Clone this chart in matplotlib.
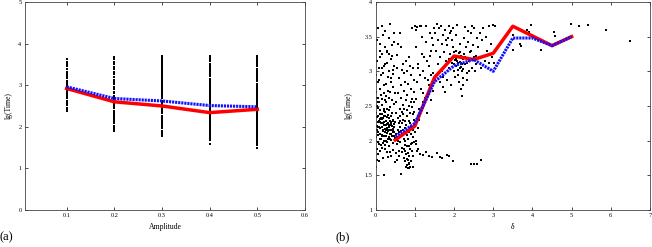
#!/usr/bin/env python3
"""Two-panel figure: lg(Time) vs amplitude (a) and vs delta (b)."""

import matplotlib

matplotlib.use("Agg")
import matplotlib.pyplot as plt
import numpy as np

# ---- panel (a): amplitude sweep -------------------------------------------
amplitudes = [0.1, 0.2, 0.3, 0.4, 0.5]
red_a = [2.92, 2.60, 2.50, 2.34, 2.42]
blue_a = [2.96, 2.68, 2.62, 2.51, 2.48]

# observed lg(Time) dots per amplitude column
col_01 = [2.38, 2.41, 2.45, 2.52, 2.58, 2.63, 2.70, 2.73, 2.78, 2.82, 2.86,
          2.90, 2.95, 3.00, 3.05, 3.10, 3.18, 3.22, 3.27, 3.32, 3.40, 3.45,
          3.50, 3.55, 3.64]
col_02 = [1.90, 1.94, 1.99, 2.03, 2.08, 2.12, 2.17, 2.21, 2.26, 2.30, 2.35,
          2.39, 2.44, 2.48, 2.53, 2.57, 2.62, 2.66, 2.71, 2.75, 2.80, 2.84,
          2.90, 2.96, 3.02, 3.08, 3.12, 3.20, 3.26, 3.32, 3.38, 3.44, 3.50,
          3.56, 3.62, 3.68]
col_03 = [1.78, 1.82, 1.87, 1.91, 1.96, 2.00, 2.05, 2.09, 2.14, 2.18, 2.23,
          2.27, 2.32, 2.36, 2.41, 2.45, 2.50, 2.54, 2.59, 2.63, 2.68, 2.72,
          2.77, 2.81, 2.86, 2.90, 2.95, 2.99, 3.04, 3.08, 3.13, 3.17, 3.22,
          3.26, 3.31, 3.35, 3.40, 3.44, 3.49, 3.53, 3.58, 3.62, 3.67, 3.70]
col_04 = [1.59, 1.68, 1.72, 1.77, 1.81, 1.86, 1.90, 1.95, 1.99, 2.04, 2.08,
          2.13, 2.17, 2.22, 2.26, 2.31, 2.35, 2.40, 2.44, 2.49, 2.53, 2.58,
          2.62, 2.67, 2.71, 2.76, 2.80, 2.85, 2.89, 2.94, 2.98, 3.03, 3.07,
          3.12, 3.16, 3.21, 3.25, 3.30, 3.34, 3.39, 3.43, 3.48, 3.52, 3.57,
          3.61, 3.66, 3.70]
col_05 = [1.49, 1.56, 1.60, 1.65, 1.69, 1.74, 1.78, 1.83, 1.87, 1.92, 1.96,
          2.01, 2.05, 2.10, 2.14, 2.19, 2.23, 2.28, 2.32, 2.37, 2.41, 2.46,
          2.50, 2.55, 2.59, 2.64, 2.68, 2.73, 2.77, 2.82, 2.86, 2.91, 2.95,
          3.00, 3.04, 3.09, 3.13, 3.18, 3.22, 3.27, 3.31, 3.36, 3.40, 3.45,
          3.49, 3.54, 3.58, 3.63, 3.67, 3.70]
columns_a = [col_01, col_02, col_03, col_04, col_05]

# ---- panel (b): delta sweep -----------------------------------------------
deltas = [0.5, 1.0, 1.5, 2.0, 2.5, 3.0, 3.5, 4.0, 4.5, 5.0]
red_b = [2.01, 2.21, 2.91, 3.22, 3.17, 3.26, 3.65, 3.51, 3.37, 3.50]
blue_b = [2.06, 2.25, 2.85, 3.08, 3.17, 3.00, 3.48, 3.48, 3.37, 3.50]

# (delta, lg(Time)) scatter, grouped by region
pts_dense = [
    (0.02, 2.05), (0.03, 2.21), (0.04, 2.34), (0.05, 1.98), (0.06, 2.47),
    (0.07, 2.12), (0.08, 2.28), (0.09, 2.55), (0.10, 2.02), (0.11, 2.18),
    (0.12, 2.39), (0.13, 1.93), (0.14, 2.25), (0.15, 2.08), (0.16, 2.51),
    (0.17, 2.31), (0.18, 2.14), (0.19, 1.96), (0.20, 2.43), (0.21, 2.22),
    (0.22, 2.06), (0.23, 2.36), (0.24, 2.58), (0.25, 2.17), (0.26, 1.99),
    (0.27, 2.29), (0.28, 2.45), (0.29, 2.11), (0.30, 2.24), (0.31, 2.03),
    (0.32, 2.37), (0.33, 2.19), (0.34, 1.92), (0.35, 2.32), (0.36, 2.09),
    (0.37, 2.48), (0.38, 2.15), (0.39, 2.27), (0.40, 2.01), (0.41, 2.21),
    (0.42, 2.40), (0.43, 2.13), (0.44, 1.97), (0.45, 2.30), (0.46, 2.07),
    (0.47, 2.53), (0.48, 2.19), (0.49, 2.04), (0.01, 2.40), (0.02, 2.62),
    (0.03, 1.88), (0.04, 2.15), (0.05, 2.27), (0.06, 2.08), (0.07, 2.36),
    (0.08, 1.95), (0.09, 2.19), (0.10, 2.31), (0.11, 2.44), (0.12, 2.10),
    (0.13, 2.26), (0.14, 2.02), (0.15, 2.38), (0.16, 2.20), (0.17, 2.06),
    (0.18, 2.33), (0.19, 2.16), (0.20, 2.00), (0.21, 2.35), (0.22, 2.27),
    (0.23, 2.12), (0.24, 1.94), (0.25, 2.41), (0.26, 2.23), (0.27, 2.07),
    (0.28, 2.18), (0.29, 2.34), (0.30, 1.98), (0.31, 2.14), (0.32, 2.26),
    (0.33, 2.05), (0.34, 2.44), (0.35, 2.16), (0.36, 2.28), (0.37, 2.02),
    (0.38, 2.35), (0.39, 2.10), (0.40, 2.22), (0.41, 2.07), (0.43, 2.29),
    (0.44, 2.17), (0.46, 2.24), (0.48, 2.12), (0.03, 2.50), (0.11, 2.27),
    (0.19, 2.25), (0.27, 2.16), (0.35, 2.22), (0.06, 2.20), (0.14, 2.33),
    (0.22, 2.45), (0.30, 2.17), (0.38, 2.25), (0.45, 2.15), (0.49, 2.27),
    (0.03, 1.72), (0.06, 1.80), (0.12, 1.85), (0.18, 1.75), (0.20, 1.50),
    (0.28, 1.83), (0.32, 1.77), (0.40, 1.78), (0.45, 1.86), (0.08, 1.70),
    (0.49, 1.69), (0.02, 1.62), (0.15, 1.90), (0.25, 1.88), (0.36, 1.84),
]
pts_upper_left = [
    (0.02, 2.70), (0.05, 2.85), (0.08, 3.05), (0.04, 3.15), (0.10, 2.75),
    (0.13, 2.95), (0.17, 3.25), (0.20, 2.68), (0.23, 3.10), (0.26, 2.82),
    (0.29, 3.30), (0.32, 2.72), (0.35, 3.00), (0.38, 2.90), (0.41, 3.38),
    (0.44, 2.78), (0.47, 3.55), (0.03, 3.45), (0.07, 3.62), (0.12, 3.40),
    (0.15, 3.65), (0.19, 3.52), (0.24, 3.35), (0.28, 3.28), (0.33, 3.48),
    (0.37, 3.68), (0.42, 3.22), (0.46, 3.08), (0.01, 2.95), (0.06, 2.62),
    (0.09, 2.88), (0.14, 2.66), (0.18, 2.98), (0.22, 2.80), (0.27, 2.64),
    (0.31, 2.92), (0.36, 2.70), (0.40, 2.84), (0.45, 2.96), (0.49, 2.68),
    (0.11, 3.20), (0.21, 3.08), (0.30, 3.12), (0.39, 3.18), (0.48, 3.42),
    (0.25, 3.58), (0.16, 3.05), (0.34, 3.25), (0.43, 3.02), (0.05, 2.55),
    (0.16, 2.60), (0.26, 2.56), (0.33, 2.62), (0.42, 2.58), (0.10, 3.30),
]
pts_mid_low = [
    (0.52, 2.10), (0.54, 1.95), (0.56, 2.32), (0.58, 2.05), (0.60, 1.85),
    (0.62, 2.20), (0.64, 1.52), (0.66, 2.42), (0.68, 1.90), (0.70, 2.15),
    (0.72, 1.75), (0.74, 2.28), (0.76, 2.00), (0.78, 1.62), (0.80, 2.36),
    (0.82, 1.82), (0.84, 2.12), (0.86, 1.68), (0.88, 2.25), (0.90, 1.95),
    (0.92, 2.48), (0.94, 1.78), (0.96, 2.05), (0.98, 2.30), (0.53, 2.55),
    (0.57, 2.68), (0.61, 2.45), (0.65, 2.62), (0.69, 2.52), (0.73, 2.72),
    (0.77, 2.58), (0.81, 2.66), (0.85, 2.50), (0.89, 2.75), (0.93, 2.60),
    (0.97, 2.70), (0.55, 1.72), (0.59, 2.26), (0.63, 1.98), (0.67, 2.08),
    (0.71, 1.88), (0.75, 2.18), (0.79, 1.92), (0.83, 1.72), (0.87, 1.88),
    (0.91, 2.20), (0.95, 1.62), (0.99, 1.98), (0.51, 2.40), (0.60, 2.12),
    (0.70, 2.38), (0.80, 2.08), (0.90, 2.10), (0.78, 1.80), (0.82, 1.60),
    (0.85, 1.78), (0.88, 1.62), (0.76, 1.70), (0.84, 1.92), (0.92, 1.85),
    (0.73, 2.02), (0.66, 2.25), (0.57, 2.15), (0.62, 2.35), (0.94, 2.38),
    (0.86, 2.28), (0.98, 2.55), (0.80, 1.65), (0.86, 1.60), (0.74, 1.85),
    (0.53, 1.82), (0.56, 2.00), (0.59, 1.78), (0.61, 2.28), (0.64, 2.14),
    (0.67, 1.84), (0.69, 2.30), (0.72, 2.46), (0.75, 1.94), (0.77, 2.22),
    (0.79, 2.44), (0.81, 1.74), (0.83, 2.02), (0.87, 2.40), (0.89, 1.70),
    (0.91, 2.56), (0.93, 1.96), (0.96, 2.16), (0.99, 2.42), (0.84, 1.66),
]
pts_mid_high = [
    (0.55, 3.05), (0.60, 2.90), (0.65, 3.35), (0.70, 3.10), (0.75, 2.85),
    (0.80, 3.00), (0.85, 3.20), (0.90, 2.95), (0.95, 3.05), (0.58, 3.40),
    (0.68, 3.02), (0.78, 3.15), (0.88, 3.08), (0.98, 2.88), (0.62, 3.55),
    (0.93, 3.62), (0.72, 2.98), (0.54, 3.23), (0.64, 2.80), (0.83, 2.82),
]
pts_rise = [
    (1.02, 2.60), (1.05, 2.85), (1.08, 3.05), (1.10, 2.45), (1.12, 3.65),
    (1.15, 2.75), (1.18, 3.25), (1.20, 2.55), (1.22, 3.00), (1.25, 2.90),
    (1.28, 3.42), (1.30, 2.65), (1.32, 3.15), (1.35, 2.80), (1.38, 3.55),
    (1.40, 2.95), (1.42, 3.30), (1.45, 2.72), (1.48, 3.62), (1.03, 3.35),
    (1.07, 2.35), (1.13, 2.95), (1.17, 2.48), (1.23, 3.20), (1.27, 2.62),
    (1.33, 2.88), (1.37, 3.08), (1.43, 3.48), (1.47, 2.98), (1.04, 3.60),
    (1.09, 3.10), (1.19, 3.50), (1.29, 3.65), (1.39, 3.22), (1.46, 3.38),
    (1.11, 2.30), (1.21, 2.68), (1.31, 2.40), (1.41, 2.58), (1.16, 3.66),
    (1.00, 3.66), (1.06, 3.64), (1.01, 2.12), (1.04, 2.00), (1.08, 2.18),
]
pts_cluster = [
    (1.52, 3.55), (1.55, 3.30), (1.58, 3.10), (1.60, 3.45), (1.62, 3.62),
    (1.65, 3.20), (1.68, 3.40), (1.70, 3.00), (1.72, 3.52), (1.75, 3.28),
    (1.78, 3.60), (1.80, 3.15), (1.82, 3.38), (1.85, 3.48), (1.88, 3.05),
    (1.90, 3.25), (1.92, 3.58), (1.95, 3.12), (1.98, 3.35), (2.00, 3.00),
    (2.02, 3.22), (2.04, 3.08), (2.06, 3.30), (2.08, 3.15), (2.10, 2.95),
    (2.12, 3.20), (2.14, 3.05), (2.16, 3.28), (2.18, 3.12), (2.20, 3.00),
    (2.22, 3.18), (2.24, 2.90), (2.26, 3.25), (2.28, 3.10), (2.30, 3.35),
    (2.32, 2.98), (2.35, 3.42), (2.38, 3.15), (2.40, 3.28), (2.42, 3.55),
    (2.45, 3.05), (2.48, 3.38), (2.50, 3.20), (2.52, 3.62), (2.55, 3.10),
    (2.58, 3.48), (1.54, 2.95), (1.63, 2.85), (1.73, 2.92), (1.83, 2.88),
    (1.93, 2.80), (2.03, 2.92), (2.13, 2.85), (2.23, 2.80), (2.33, 2.88),
    (1.57, 3.68), (1.67, 3.66), (1.87, 3.65), (2.07, 3.67), (2.27, 3.64),
    (2.47, 3.66), (1.96, 3.45), (2.05, 3.52), (2.15, 3.40), (2.25, 3.48),
    (2.36, 3.58), (1.76, 3.08), (1.86, 3.18), (2.01, 3.10), (2.09, 3.02),
    (2.11, 3.12), (2.17, 3.06), (2.19, 3.22), (2.21, 3.10), (2.03, 3.16),
    (2.13, 3.26), (2.23, 3.04), (2.06, 3.18), (2.16, 3.14), (1.99, 3.28),
    (1.66, 3.02), (1.79, 3.45), (1.89, 3.55), (1.97, 3.62), (2.29, 3.20),
    (2.39, 3.00), (2.44, 3.30), (2.53, 3.00), (2.57, 3.22), (2.34, 3.12),
    (1.77, 2.70), (2.19, 2.75), (1.71, 2.78), (2.20, 2.65),
]
pts_low_tail = [
    (1.05, 1.85), (1.12, 1.80), (1.20, 1.79), (1.28, 1.84), (1.35, 1.78),
    (1.44, 1.77), (1.02, 1.95), (1.08, 1.88), (1.56, 1.82), (1.64, 1.77),
    (1.70, 1.75), (1.81, 1.79), (1.88, 1.78), (1.98, 1.70), (2.42, 1.66),
    (2.52, 1.67), (2.58, 1.66), (2.70, 1.72),
]
pts_right = [
    (2.62, 3.35), (2.65, 3.55), (2.68, 3.20), (2.72, 3.45), (2.75, 3.62),
    (2.78, 3.15), (2.82, 3.50), (2.85, 3.30), (2.90, 3.65), (2.95, 3.40),
    (3.00, 3.67), (2.70, 3.05), (2.88, 3.12), (3.05, 3.66), (2.98, 3.20),
    (3.02, 3.12), (3.51, 3.52), (3.68, 3.40), (3.50, 3.31), (3.70, 3.36),
    (3.87, 3.59), (3.90, 3.56), (3.96, 3.67), (4.23, 3.31), (4.55, 3.57),
    (4.57, 3.51), (4.98, 3.68), (5.19, 3.65), (5.41, 3.67), (5.88, 3.60),
    (6.49, 3.43),
]
scatter_b = (pts_dense + pts_upper_left + pts_mid_low + pts_mid_high
             + pts_rise + pts_cluster + pts_low_tail + pts_right)

SERIF = ["Liberation Serif", "DejaVu Serif"]
TICK_FS = 4.5
DOT_S = 3.6
BLUE_DASH = (0, (0.7, 0.3))


def style_axes(ax):
    ax.tick_params(direction="in", length=2.5, width=0.5, labelsize=TICK_FS,
                   top=True, right=True, pad=2.5)
    for sp in ax.spines.values():
        sp.set_linewidth(0.6)
        sp.set_color("#444444")
    for lab in ax.get_xticklabels() + ax.get_yticklabels():
        lab.set_family(SERIF)


fig = plt.figure(figsize=(6.52, 2.47), dpi=100)

# (a)
ax1 = fig.add_axes([0.0383, 0.150, 0.4295, 0.842])
for amp, col in zip(amplitudes, columns_a):
    ax1.scatter(np.full(len(col), amp), col, s=DOT_S, marker="s",
                color="black", linewidths=0, zorder=2)
ax1.plot(amplitudes, red_a, color="#ff0000", lw=2.5, zorder=3)
ax1.plot(amplitudes, blue_a, color="#1010ff", lw=2.2, ls=BLUE_DASH, zorder=4)
ax1.set_xlim(0.0125, 0.6)
ax1.set_ylim(0, 5)
ax1.set_xticks([0.1, 0.2, 0.3, 0.4, 0.5, 0.6])
ax1.set_yticks([0, 1, 2, 3, 4, 5])
style_axes(ax1)
ax1.set_xlabel("Amplitude", fontsize=5.5, family=SERIF, labelpad=3)
ax1.set_ylabel("lg(Time)", fontsize=5.5, family=SERIF, labelpad=4)

# (b)
ax2 = fig.add_axes([0.5762, 0.150, 0.4207, 0.842])
bx = np.array([p[0] for p in scatter_b])
by = np.array([p[1] for p in scatter_b])
ax2.scatter(bx, by, s=DOT_S, marker="s", color="black", linewidths=0,
            zorder=2)
ax2.plot(deltas, red_b, color="#ff0000", lw=2.5, zorder=3)
ax2.plot(deltas, blue_b, color="#1010ff", lw=2.2, ls=BLUE_DASH, zorder=4)
ax2.set_xlim(0, 7)
ax2.set_ylim(1, 4)
ax2.set_xticks(range(0, 8))
ax2.set_yticks([1, 1.5, 2, 2.5, 3, 3.5, 4])
ax2.set_yticklabels(["1", "1.5", "2", "2.5", "3", "3.5", "4"])
style_axes(ax2)
ax2.set_xlabel("δ", fontsize=5.5, family=SERIF, labelpad=3)
ax2.set_ylabel("lg(Time)", fontsize=5.5, family=SERIF, labelpad=8)

fig.text(0.0, 0.04, "(a)", fontsize=9, family=SERIF, ha="left", va="center")
fig.text(0.514, 0.04, "(b)", fontsize=9, family=SERIF, ha="left",
         va="center")

fig.savefig("out.png", dpi=100)
